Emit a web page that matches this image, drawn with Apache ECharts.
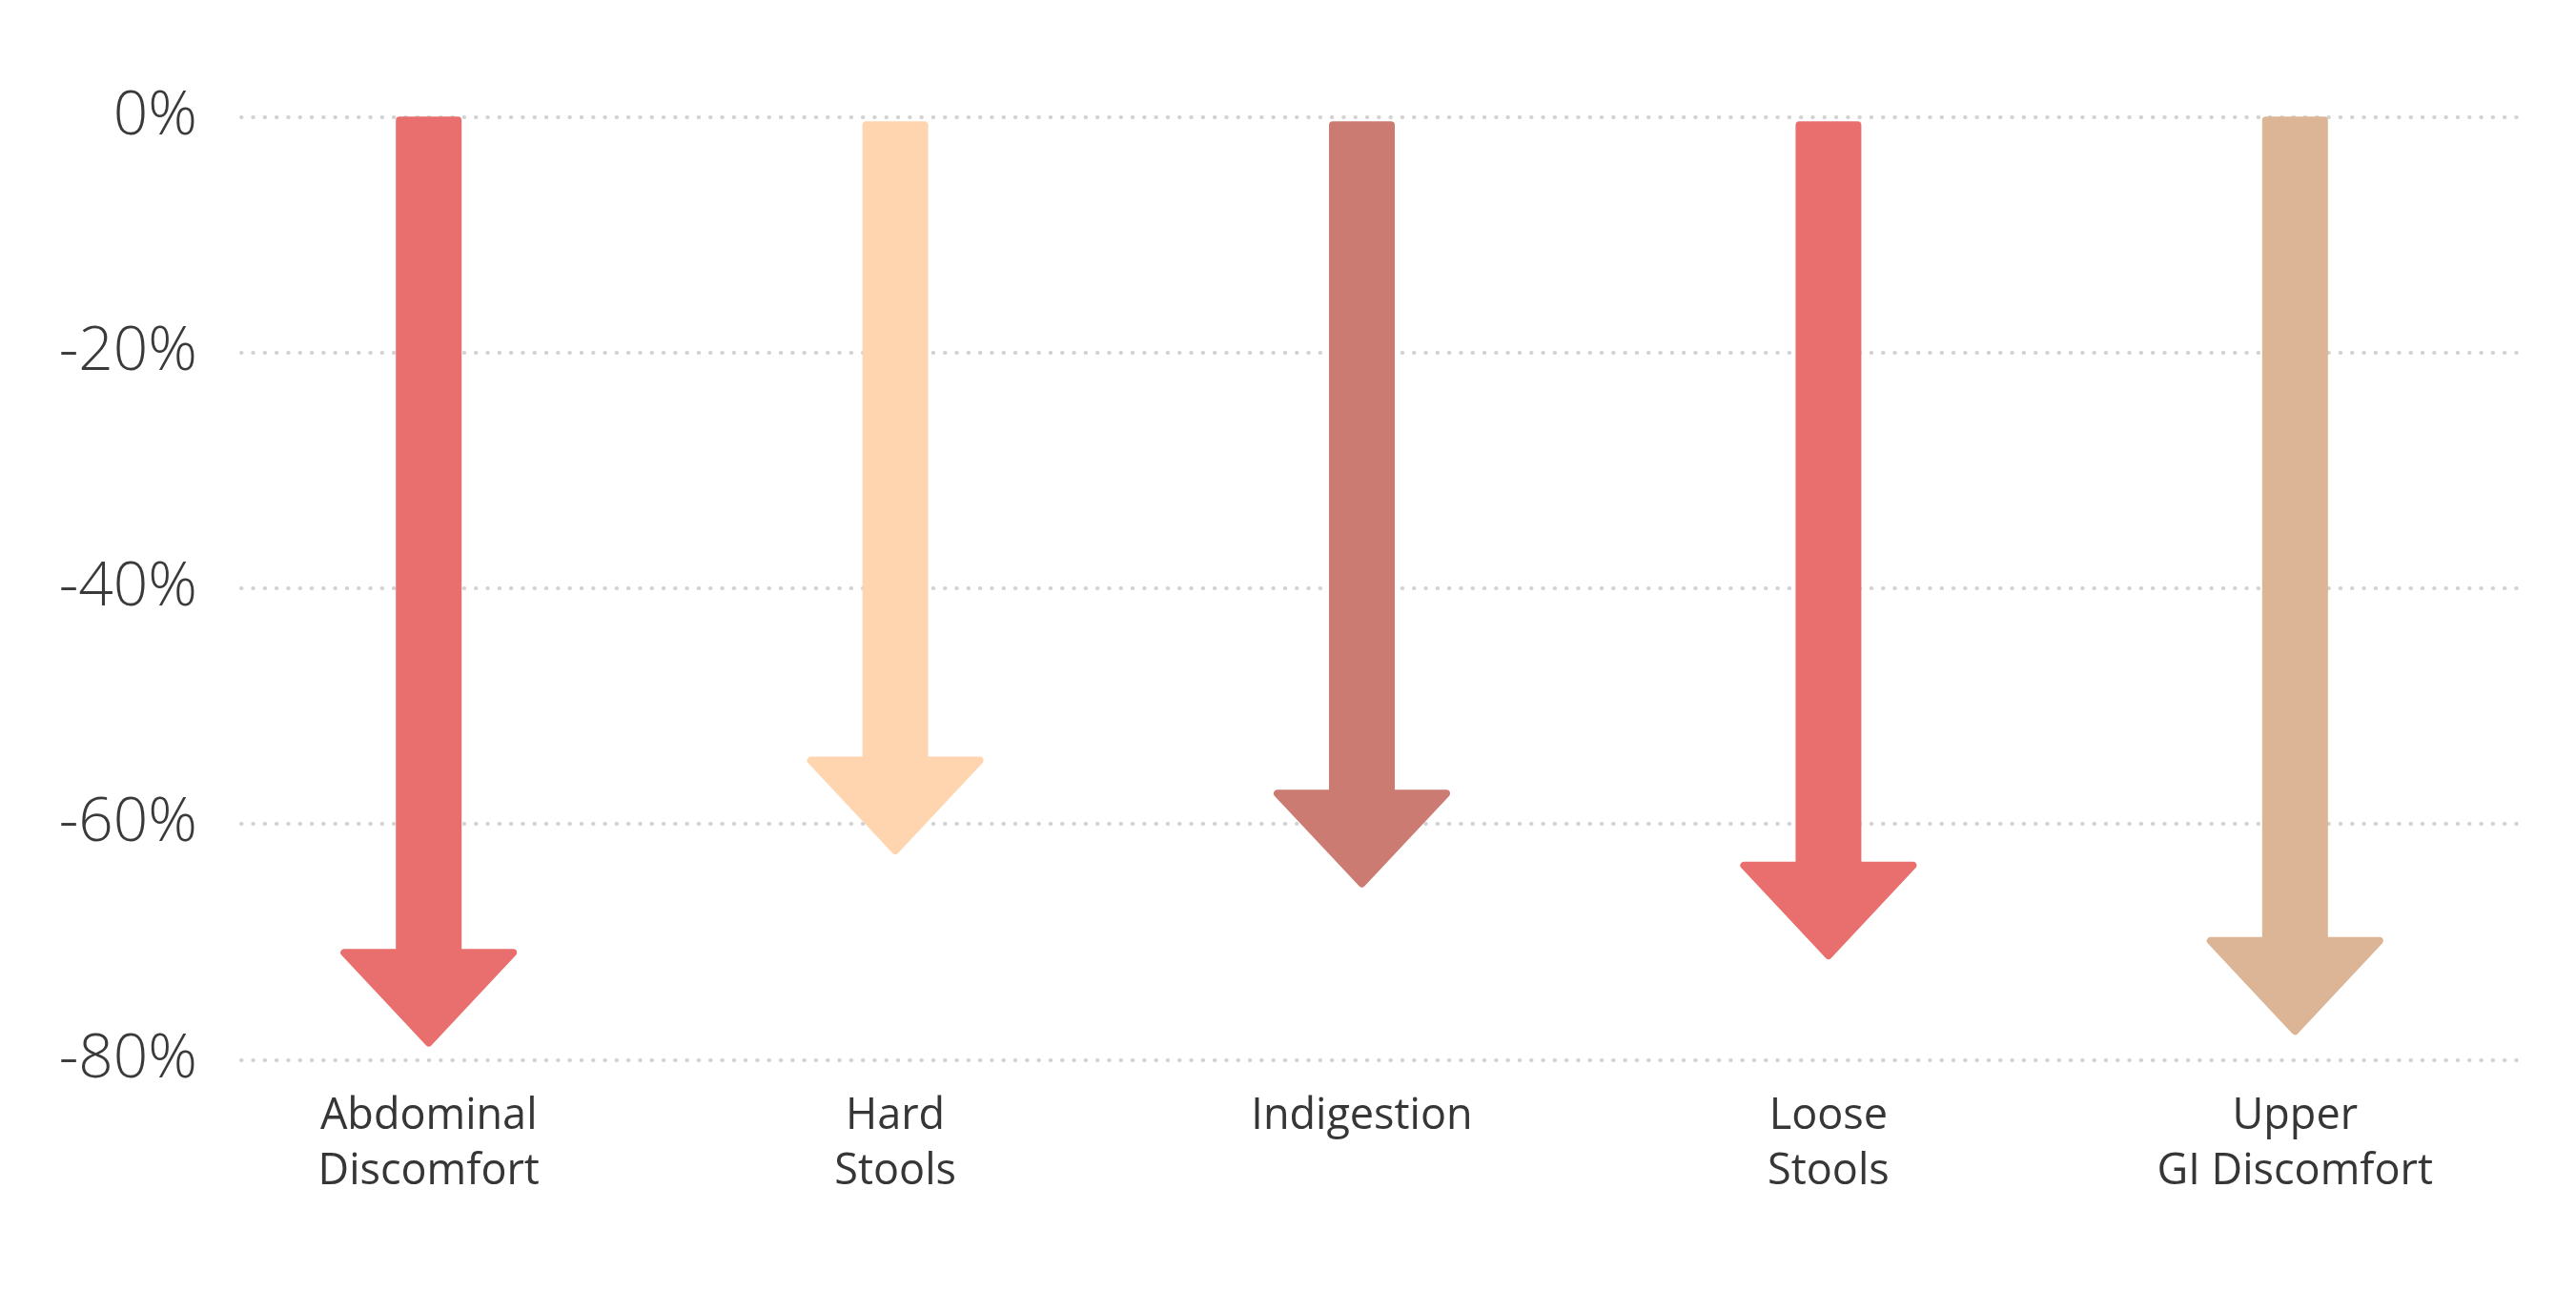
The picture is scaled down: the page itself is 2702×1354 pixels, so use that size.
<!DOCTYPE html>
<html>
<head>
<meta charset="utf-8">
<script src="https://cdn.jsdelivr.net/npm/echarts@6/dist/echarts.min.js"></script>
<style>
  html, body { margin: 0; padding: 0; background: #ffffff; }
  #chart { width: 2702px; height: 1354px; }
</style>
</head>
<body>
<div id="chart"></div>
<script>
// ---- data ----
const categories = ['Abdominal\nDiscomfort', 'Hard\nStools', 'Indigestion', 'Loose\nStools', 'Upper\nGI Discomfort'];
const startValues = [0, -0.4, -0.4, -0.4, 0];
const endValues = [-79, -62.7, -65.5, -71.6, -78];
const arrowColors = ['#E96F6E', '#FED5AF', '#CB7B72', '#E96F6E', '#DBB595'];
const yTickMin = -80;
const yTickMax = 0;
const yTickStep = 20;

// ---- chart ----
const chart = echarts.init(document.getElementById('chart'), null, { renderer: 'canvas' });

const SHAFT_HALF = 34.5;
const HEAD_HALF = 94.5;
const HEAD_H = 104;
const R = 4; // rounding via stroke

function renderArrow(params, api) {
  const i = api.value(0);
  const top = api.coord([i, api.value(1)]);
  const tip = api.coord([i, api.value(2)]);
  const cx = top[0];
  const yTop = top[1] + R;
  const yTip = tip[1] - R * 1.4;
  const yHead = tip[1] - HEAD_H + R;
  const sh = SHAFT_HALF - R;
  const hh = HEAD_HALF - R * 1.5;
  const color = arrowColors[i];
  return {
    type: 'polygon',
    shape: {
      points: [
        [cx - sh, yTop],
        [cx + sh, yTop],
        [cx + sh, yHead],
        [cx + hh, yHead],
        [cx, yTip],
        [cx - hh, yHead],
        [cx - sh, yHead]
      ]
    },
    style: {
      fill: color,
      stroke: color,
      lineWidth: R * 2,
      lineJoin: 'round'
    }
  };
}

const option = {
  backgroundColor: '#ffffff',
  animation: false,
  grid: [
    { left: 253, right: 62, top: 122.3, bottom: 242.5 },
    { left: 205, right: 50, top: 122.3, bottom: 242.5 }
  ],
  xAxis: [
    {
      gridIndex: 0,
      type: 'category',
      data: categories,
      show: false
    },
    {
      gridIndex: 1,
      type: 'category',
      data: categories,
      axisLine: { show: false },
      axisTick: { show: false },
      splitLine: { show: false },
      axisLabel: {
        margin: 31,
        fontFamily: 'Open Sans',
        fontSize: 45,
        lineHeight: 58,
        color: '#363636',
        interval: 0
      }
    }
  ],
  yAxis: [
    {
      gridIndex: 0,
      type: 'value',
      min: yTickMin,
      max: yTickMax,
      interval: yTickStep,
      axisLine: { show: false },
      axisTick: { show: false },
      axisLabel: {
        formatter: '{value}%',
        margin: 46,
        fontFamily: 'Open Sans',
        fontWeight: 300,
        fontSize: 64,
        color: '#3a3a3a'
      },
      splitLine: {
        show: true,
        lineStyle: {
          color: '#d2d2d2',
          width: 4,
          type: [0.5, 11.8],
          cap: 'round'
        }
      }
    },
    {
      gridIndex: 1,
      type: 'value',
      min: yTickMin,
      max: yTickMax,
      interval: yTickStep,
      show: false,
      splitLine: { show: false }
    }
  ],
  series: [
    {
      type: 'custom',
      xAxisIndex: 1,
      yAxisIndex: 1,
      renderItem: renderArrow,
      encode: { x: 0, y: [1, 2] },
      data: categories.map((c, i) => [i, startValues[i], endValues[i]]),
      z: 5
    }
  ]
};

chart.setOption(option);
</script>
</body>
</html>
